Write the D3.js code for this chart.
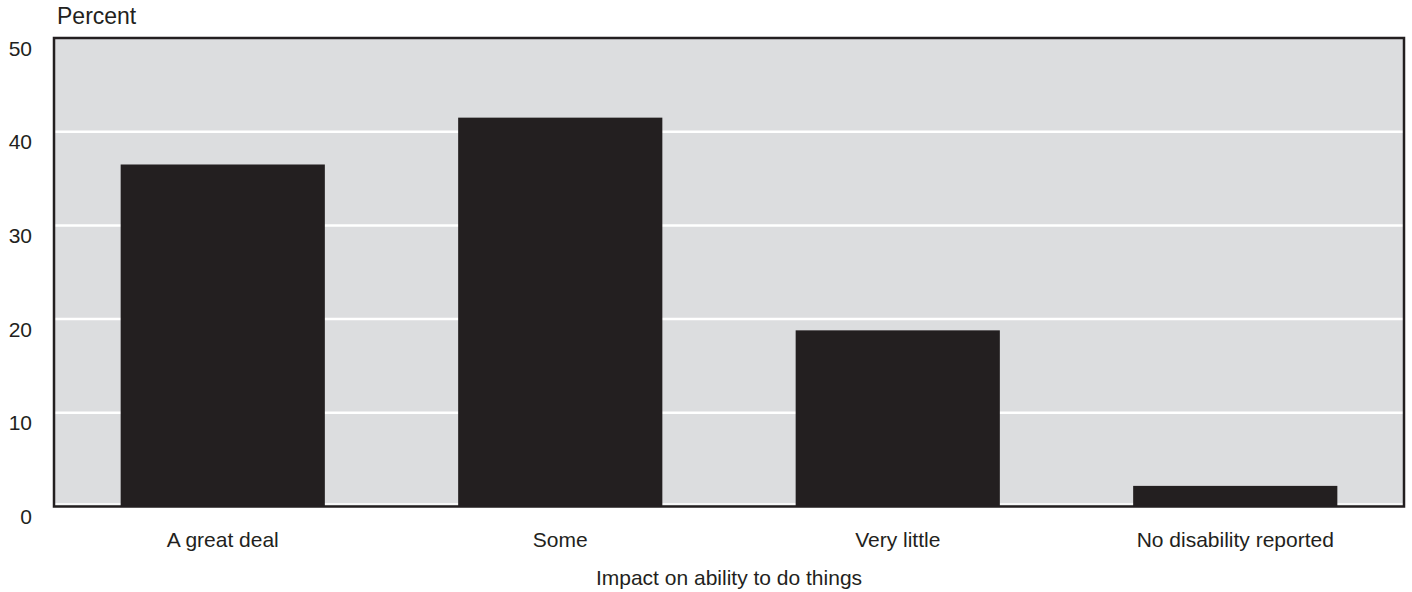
<!DOCTYPE html>
<html>
<head>
<meta charset="utf-8">
<script src="https://cdn.jsdelivr.net/npm/d3@7"></script>
<style>
  html, body { margin: 0; padding: 0; background: #ffffff; }
  svg { display: block; }
  text { font-family: "Liberation Sans", Arial, Helvetica, sans-serif; fill: #231f20; }
</style>
</head>
<body>
<svg id="chart" width="1412" height="592"></svg>
<script>
const categories = ["A great deal", "Some", "Very little", "No disability reported"];
const values = [36.5, 41.5, 18.8, 2.2];
const yTicks = [0, 10, 20, 30, 40, 50];
const yLabel = "Percent";
const xLabel = "Impact on ability to do things";

const plot = { left: 54, right: 1404, top: 38, bottom: 506.5 };

const svg = d3.select("#chart");

const x = d3.scaleBand()
  .domain(categories)
  .range([plot.left, plot.right])
  .paddingInner(0.395)
  .paddingOuter(0.1975);

const y = d3.scaleLinear()
  .domain([0, 50])
  .range([plot.bottom, plot.top]);

// plot background
svg.append("rect")
  .attr("x", plot.left).attr("y", plot.top)
  .attr("width", plot.right - plot.left)
  .attr("height", plot.bottom - plot.top)
  .attr("fill", "#dcdddf");

// gridlines
svg.append("g").selectAll("line")
  .data(yTicks.filter(d => d > 0 && d < 50))
  .join("line")
  .attr("x1", plot.left).attr("x2", plot.right)
  .attr("y1", d => y(d)).attr("y2", d => y(d))
  .attr("stroke", "#ffffff")
  .attr("stroke-width", 2.5);

// zero line (white, just above the frame)
svg.append("line")
  .attr("x1", plot.left).attr("x2", plot.right)
  .attr("y1", y(0) - 2.5).attr("y2", y(0) - 2.5)
  .attr("stroke", "#ffffff").attr("stroke-width", 1.5);

// bars
svg.append("g").selectAll("rect")
  .data(categories.map((c, i) => ({ c, v: values[i] })))
  .join("rect")
  .attr("x", d => x(d.c))
  .attr("width", x.bandwidth())
  .attr("y", d => y(d.v))
  .attr("height", d => y(0) - y(d.v))
  .attr("fill", "#231f20");

// frame
svg.append("rect")
  .attr("x", plot.left).attr("y", plot.top)
  .attr("width", plot.right - plot.left)
  .attr("height", plot.bottom - plot.top)
  .attr("fill", "none")
  .attr("stroke", "#231f20")
  .attr("stroke-width", 2.5);

// y axis labels
const yAxis = d3.axisLeft(y).tickValues(yTicks).tickSize(0).tickPadding(22).tickFormat(d3.format("d"));
const gy = svg.append("g").attr("transform", `translate(${plot.left},0)`).call(yAxis);
gy.select(".domain").remove();
gy.selectAll("text")
  .attr("dy", null)
  .attr("y", 17)
  .style("font-size", "21px")
  .style("fill", "#231f20");

// x axis labels
const xAxis = d3.axisBottom(x).tickSize(0);
const gx = svg.append("g").attr("transform", `translate(0,${plot.bottom})`).call(xAxis);
gx.select(".domain").remove();
gx.selectAll("text")
  .attr("dy", null)
  .attr("y", 40.5)
  .style("font-size", "21px")
  .style("fill", "#231f20");

// titles
svg.append("text")
  .attr("x", 57).attr("y", 23.5)
  .style("font-size", "23px")
  .text(yLabel);

svg.append("text")
  .attr("x", (plot.left + plot.right) / 2).attr("y", 584.5)
  .attr("text-anchor", "middle")
  .style("font-size", "21px")
  .text(xLabel);
</script>
</body>
</html>
